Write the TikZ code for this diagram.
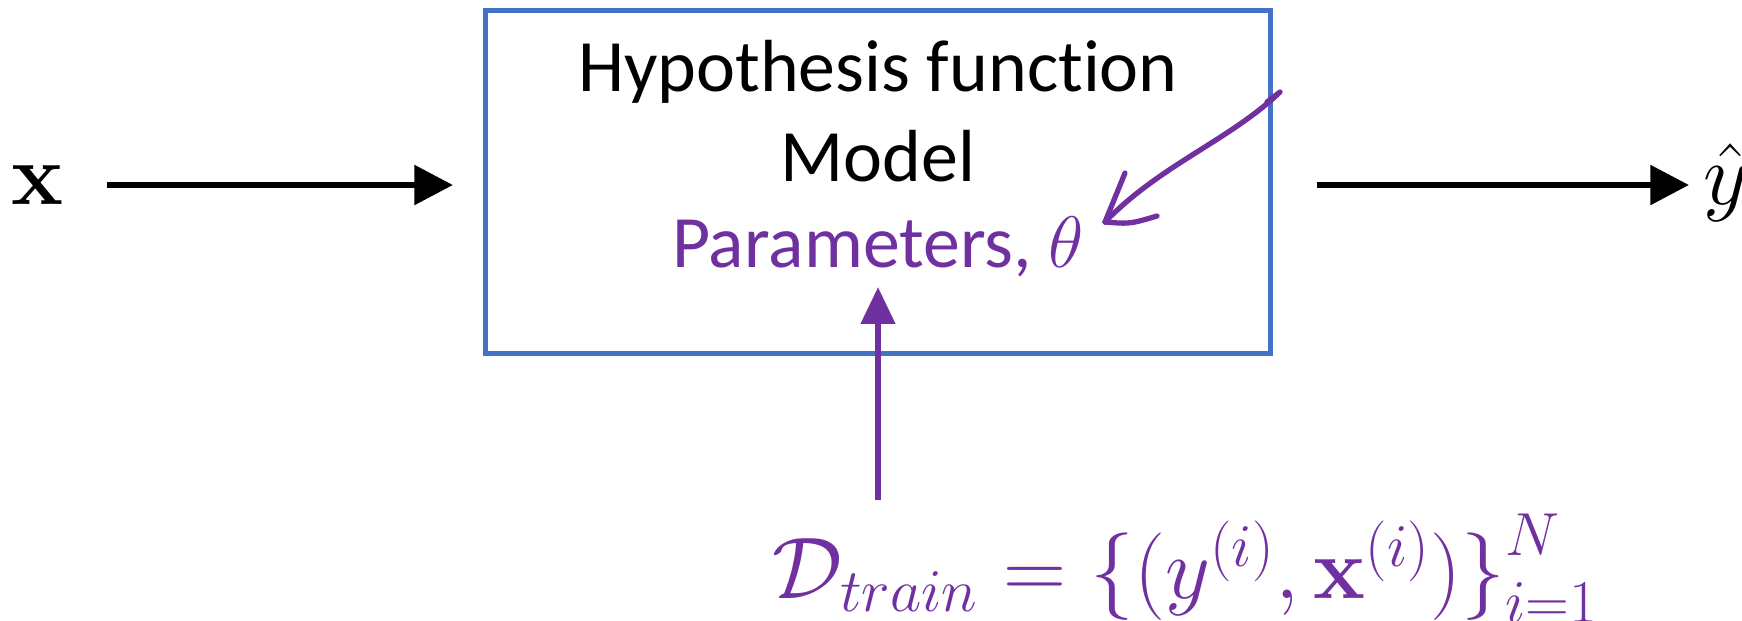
\documentclass[tikz,border=0pt]{standalone}
\usepackage[no-math]{fontspec}
\setmainfont{Carlito}[RawFeature={-liga;-clig;-calt;-dlig}]
\usepackage{xcolor}
\definecolor{box-border}{HTML}{4472C4}
\definecolor{param-purple}{HTML}{7030A0}
\usepackage{tikz}
\usetikzlibrary{
  arrows.meta,
  positioning
}

\begin{document}
\begin{tikzpicture}[
    x=0.01cm, y=-0.01cm,
    block/.style={
      rectangle,
      draw=box-border,
      line width=1.3pt,
      minimum width=7.85cm,
      minimum height=3.43cm
    },
    txt/.style={
      inner sep=0pt,
      font=\fontsize{21}{25}\selectfont
    },
    mathtxt/.style={
      inner sep=0pt,
      font=\fontsize{26}{30}\selectfont
    },
    flow/.style={
      -{Triangle[length=11pt,width=11pt]},
      line width=1.9pt
    },
    pflow/.style={
      -{Triangle[length=10.5pt,width=9.5pt]},
      line width=1.8pt,
      color=param-purple
    },
    pen/.style={
      line width=1.5pt,
      color=param-purple,
      line cap=round,
      line join=round
    }
  ]
    \useasboundingbox (0,0) rectangle (1742,620);

    \node[block] (model) at (878, 182) {};
    \node[txt] (hyp)    at (878, 72)  {Hypothesis funct\kern0pt ion};
    \node[txt] (mdl)    at (878, 156) {Model};
    \node[txt, text=param-purple] (params) at (878, 247) {Parameters, $\theta$};

    \node[mathtxt, anchor=center] (xin) at (37, 185) {$\mathbf{x}$};
    \node[mathtxt, anchor=west, font=\fontsize{30}{34}\selectfont] (yout) at (1703, 183) {$\hat{y}$};

    \node[mathtxt, text=param-purple, anchor=base west] (data) at (772, 598)
      {$\mathcal{D}_{train} = \Big\{\Big(y^{(i)},\mathbf{x}^{(i)}\Big)\Big\}_{i=1}^{N}$};

    \coordinate (inbeg)  at (107, 185);
    \coordinate (inend)  at (453, 185);
    \coordinate (outend) at (1689, 185);
    \coordinate (datatop) at (878, 500);
    \coordinate (penstart) at (1267, 102);
    \coordinate (pentip) at (1105, 222);

    % input and output
    \draw[flow] (inbeg) -- (inend);
    \draw[flow] (model.east |- outend) ++(44,0) -- (outend);
    % training data -> parameters
    \draw[pflow] (datatop) -- (params.south |- 0,287);
    % hand-drawn pointer to theta
    \draw[pen] (penstart) -- (1280, 92)
      .. controls (1230, 140) and (1160, 165) .. (pentip);
    \draw[pen] (pentip) -- (1125, 173);
    \draw[pen] (pentip) .. controls (1130, 224) .. (1157, 216);
  \end{tikzpicture}
\end{document}
